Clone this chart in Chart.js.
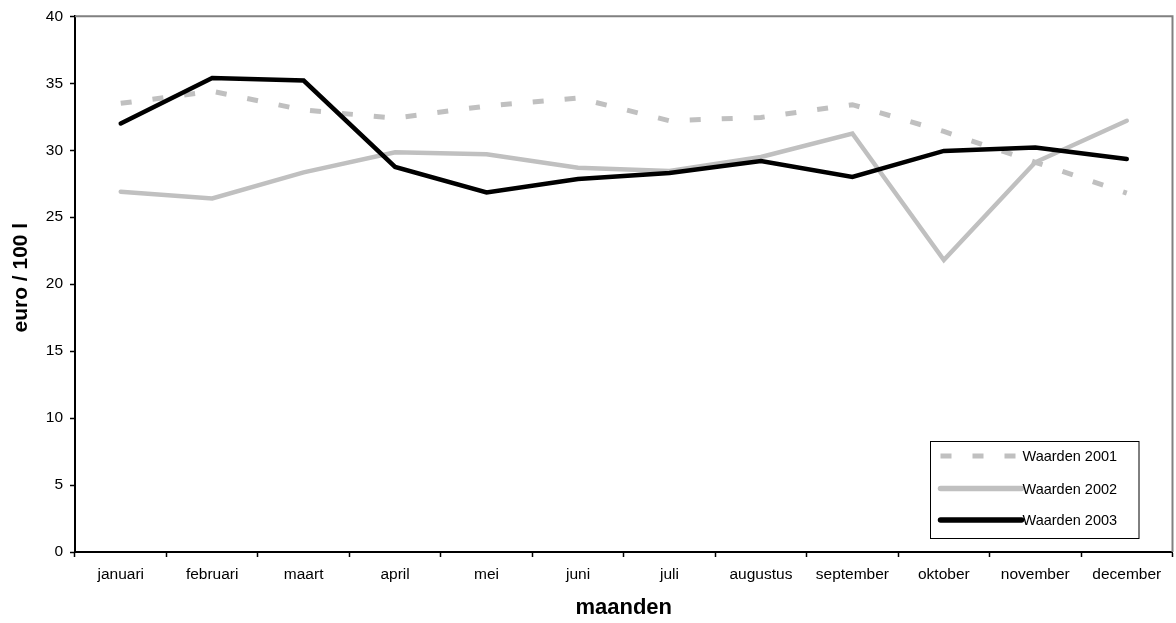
<!DOCTYPE html>
<html>
<head>
<meta charset="utf-8">
<script src="https://cdn.jsdelivr.net/npm/chart.js@4.4.0/dist/chart.umd.min.js"></script>
<style>
  html, body { margin: 0; padding: 0; background: #fff; }
  #wrap { width: 1176px; height: 623px; }
</style>
</head>
<body>
<div id="wrap"><canvas id="c" width="1176" height="623"></canvas></div>
<script>
// Maandelijkse waarden in euro per 100 liter
const maanden = ['januari', 'februari', 'maart', 'april', 'mei', 'juni', 'juli',
  'augustus', 'september', 'oktober', 'november', 'december'];
const waarden2001 = [33.5, 34.4, 33.0, 32.4, 33.3, 33.9, 32.2, 32.45, 33.4, 31.4, 29.1, 26.8];
const waarden2002 = [26.9, 26.4, 28.35, 29.85, 29.7, 28.7, 28.45, 29.5, 31.25, 21.8, 29.1, 32.2];
const waarden2003 = [32.0, 35.4, 35.2, 28.75, 26.85, 27.85, 28.3, 29.2, 28.0, 29.95, 30.2, 29.35];
const yTicks = [0, 5, 10, 15, 20, 25, 30, 35, 40];
const yTitel = 'euro / 100 l';

const FONT = "'Liberation Sans', Arial, sans-serif";
const GRIJS = '#c0c0c0';

// Grijze rand boven en rechts van het plotgebied
const plotRand = {
  id: 'plotRand',
  beforeDatasetsDraw(chart) {
    const { ctx, chartArea: a } = chart;
    ctx.save();
    ctx.strokeStyle = '#808080';
    ctx.lineWidth = 2;
    ctx.beginPath();
    ctx.moveTo(a.left, a.top);
    ctx.lineTo(a.right, a.top);
    ctx.lineTo(a.right, a.bottom);
    ctx.stroke();
    ctx.restore();
  }
};

// Verticale astitel links van de y-as
const yAsTitel = {
  id: 'yAsTitel',
  afterDraw(chart) {
    const { ctx, chartArea: a } = chart;
    ctx.save();
    ctx.translate(21.5, (a.top + a.bottom) / 2 - 6.5);
    ctx.rotate(-Math.PI / 2);
    ctx.fillStyle = '#000';
    ctx.font = 'bold 21px ' + FONT;
    ctx.textAlign = 'center';
    ctx.textBaseline = 'middle';
    ctx.fillText(yTitel, 0, 0);
    ctx.restore();
  }
};

// Legenda in een kader rechtsonder in het plotgebied
const legendaKader = {
  id: 'legendaKader',
  afterDatasetsDraw(chart) {
    const { ctx, chartArea: a } = chart;
    const w = 208.5, h = 97;
    const x = Math.round(a.right - 34.5 - w) + 0.5;
    const y = Math.round(a.bottom - 14.5 - h) + 0.5;
    ctx.save();
    ctx.fillStyle = '#fff';
    ctx.fillRect(x, y, w, h);
    ctx.strokeStyle = '#000';
    ctx.lineWidth = 1;
    ctx.strokeRect(x, y, w, h);
    const rows = [14.5, 47, 78.5];
    chart.data.datasets.forEach((ds, i) => {
      const ry = y + rows[i];
      ctx.beginPath();
      ctx.strokeStyle = ds.borderColor;
      ctx.lineWidth = ds.legendWidth;
      ctx.setLineDash(ds.borderDash || []);
      ctx.lineCap = ds.borderDash ? 'butt' : 'round';
      ctx.moveTo(x + 10, ry);
      ctx.lineTo(x + 91, ry);
      ctx.stroke();
      ctx.setLineDash([]);
      ctx.fillStyle = '#000';
      ctx.font = '14.5px ' + FONT;
      ctx.textBaseline = 'middle';
      ctx.textAlign = 'left';
      ctx.fillText(ds.label, x + 92, ry + 1);
    });
    ctx.restore();
  }
};

new Chart(document.getElementById('c'), {
  type: 'line',
  data: {
    labels: maanden,
    datasets: [
      {
        label: 'Waarden 2001',
        data: waarden2001,
        borderColor: GRIJS,
        borderWidth: 5,
        legendWidth: 5,
        borderDash: [11, 21],
        borderCapStyle: 'butt',
        order: 1
      },
      {
        label: 'Waarden 2002',
        data: waarden2002,
        borderColor: GRIJS,
        borderWidth: 4.5,
        legendWidth: 5.5,
        borderCapStyle: 'round',
        borderJoinStyle: 'miter',
        order: 2
      },
      {
        label: 'Waarden 2003',
        data: waarden2003,
        borderColor: '#000',
        borderWidth: 4.5,
        legendWidth: 5.5,
        borderCapStyle: 'round',
        borderJoinStyle: 'miter',
        order: 0
      }
    ]
  },
  options: {
    responsive: false,
    animation: false,
    devicePixelRatio: 1,
    layout: { padding: { top: 16, right: 3.5, left: 0, bottom: 0 } },
    elements: {
      point: { radius: 0, hoverRadius: 0 },
      line: { tension: 0, fill: false }
    },
    plugins: {
      legend: { display: false },
      tooltip: { enabled: false }
    },
    scales: {
      x: {
        offset: true,
        grid: {
          display: true,
          offset: true,
          drawOnChartArea: false,
          drawTicks: true,
          tickLength: 5,
          tickColor: '#000',
          tickWidth: 1.5
        },
        border: { display: true, color: '#000', width: 2 },
        ticks: {
          color: '#000',
          font: { family: FONT, size: 15.5 },
          padding: 8,
          maxRotation: 0,
          autoSkip: false
        },
        title: {
          display: true,
          text: 'maanden',
          color: '#000',
          font: { family: FONT, size: 22, weight: 'bold' },
          padding: { top: 0, bottom: 1.5 }
        },
        afterFit(s) { s.height = 71; }
      },
      y: {
        min: 0,
        max: 40,
        afterBuildTicks(s) { s.ticks = yTicks.map(v => ({ value: v })); },
        grid: {
          display: true,
          drawOnChartArea: false,
          drawTicks: true,
          tickLength: 5,
          tickColor: '#000',
          tickWidth: 1.5
        },
        border: { display: true, color: '#000', width: 2 },
        ticks: {
          color: '#000',
          font: { family: FONT, size: 15.5 },
          padding: 7
        },
        afterFit(s) { s.width = 75; }
      }
    }
  },
  plugins: [plotRand, legendaKader, yAsTitel]
});
</script>
</body>
</html>
